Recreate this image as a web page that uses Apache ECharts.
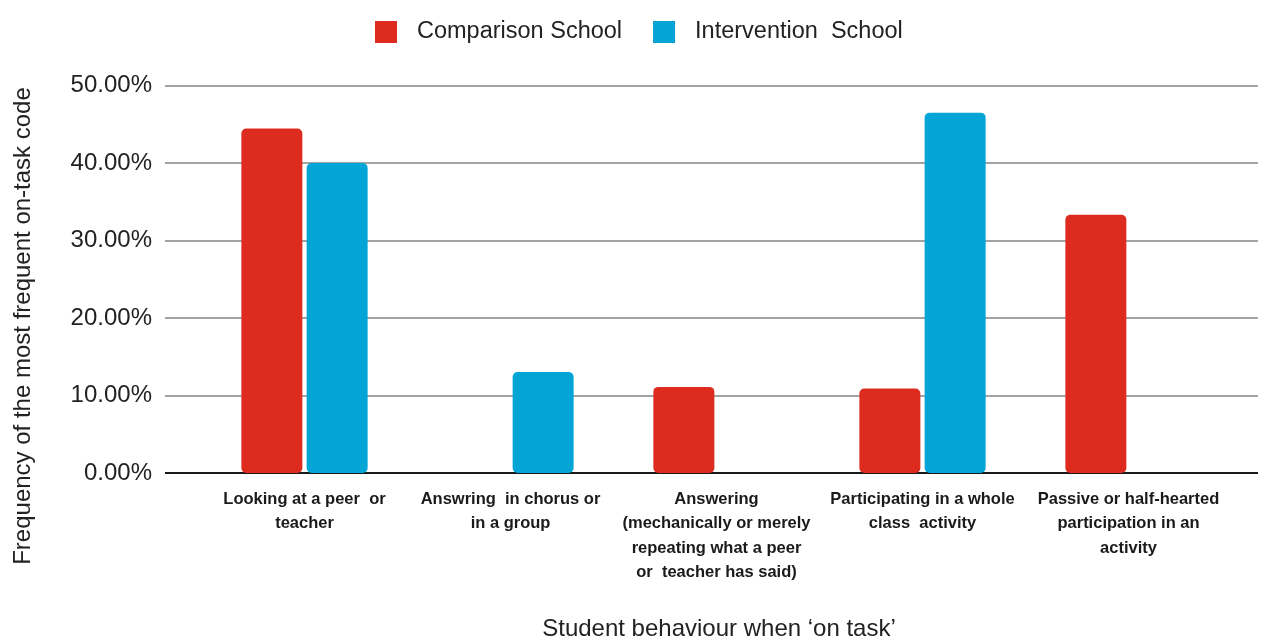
<!DOCTYPE html>
<html>
<head>
<meta charset="utf-8">
<script src="https://cdn.jsdelivr.net/npm/echarts@6/dist/echarts.min.js"></script>
<style>
  html, body { margin: 0; padding: 0; background: #fff; }
  #chart { width: 1261px; height: 639px; }
</style>
</head>
<body>
<div id="chart"></div>
<script>
// Behaviour categories (x axis)
const categories = [
  'Looking at a peer  or\nteacher',
  'Answring  in chorus or\nin a group',
  'Answering\n(mechanically or merely\nrepeating what a peer\nor  teacher has said)',
  'Participating in a whole\nclass  activity',
  'Passive or half-hearted\nparticipation in an\nactivity'
];

// Percent of observations per school
const comparisonSchool = [44.44, 0, 11.11, 10.9, 33.33];
const interventionSchool = [40.0, 13.04, 0, 46.5, 0];

const seriesNames = ['Comparison School', 'Intervention  School'];
const yTicks = [0, 10, 20, 30, 40, 50];

const RED = '#dd2c1f';
const BLUE = '#02a5d6';
const FONT = '"Liberation Sans", Arial, Helvetica, sans-serif';

const chart = echarts.init(document.getElementById('chart'));

const gridTop = 85.5;
const gridBottom = 166;

chart.setOption({
  animation: false,
  textStyle: { fontFamily: FONT },
  legend: {
    data: seriesNames,
    left: 370,
    top: 15,
    itemWidth: 22,
    itemHeight: 22,
    itemGap: 31,
    icon: 'rect',
    textStyle: { fontSize: 23.5, color: '#222', fontFamily: FONT, padding: [0, 0, 0, 15] }
  },
  grid: [
    // bars
    { left: 201.5, right: 29.5, top: gridTop, bottom: gridBottom },
    // gridlines and percentage labels span a wider band
    { left: 165, right: 3, top: gridTop, bottom: gridBottom }
  ],
  xAxis: [
    {
      type: 'category',
      gridIndex: 0,
      data: categories,
      axisLine: { show: false },
      axisTick: { show: false },
      axisLabel: {
        interval: 0,
        margin: 14,
        fontSize: 16.5,
        fontWeight: 'bold',
        color: '#1a1a1a',
        lineHeight: 24.5,
        fontFamily: FONT
      }
    },
    { type: 'value', gridIndex: 1, min: 0, max: 1, show: false }
  ],
  yAxis: [
    { type: 'value', gridIndex: 0, min: 0, max: 50, interval: 10, show: false },
    {
      type: 'value',
      gridIndex: 1,
      min: yTicks[0],
      max: yTicks[yTicks.length - 1],
      interval: 10,
      axisLine: { show: false },
      axisTick: { show: false },
      axisLabel: {
        margin: 13,
        fontSize: 24,
        color: '#222',
        fontFamily: FONT,
        padding: [5, 0, 0, 0],
        formatter: v => v.toFixed(2) + '%'
      },
      splitLine: {
        lineStyle: {
          width: 2,
          color: ['#1a1a1a', '#a3a3a3', '#a3a3a3', '#a3a3a3', '#a3a3a3', '#a3a3a3']
        }
      }
    }
  ],
  series: [
    {
      name: seriesNames[0],
      type: 'bar',
      xAxisIndex: 0,
      yAxisIndex: 0,
      data: comparisonSchool,
      barWidth: 61,
      barGap: '7%',
      itemStyle: { color: RED, borderRadius: 5 },
      z: 3
    },
    {
      name: seriesNames[1],
      type: 'bar',
      xAxisIndex: 0,
      yAxisIndex: 0,
      data: interventionSchool,
      barWidth: 61,
      barGap: '7%',
      itemStyle: { color: BLUE, borderRadius: 5 },
      z: 3
    }
  ],
  graphic: [
    {
      type: 'text',
      x: 23,
      y: 326,
      rotation: Math.PI / 2,
      style: {
        text: 'Frequency of the most frequent on-task code',
        fontSize: 24,
        fill: '#222',
        fontFamily: FONT,
        align: 'center',
        verticalAlign: 'middle'
      }
    },
    {
      type: 'text',
      x: 719,
      y: 629,
      style: {
        text: 'Student behaviour when \u2018on task\u2019',
        fontSize: 24,
        fill: '#222',
        fontFamily: FONT,
        align: 'center',
        verticalAlign: 'middle'
      }
    }
  ]
});
</script>
</body>
</html>
